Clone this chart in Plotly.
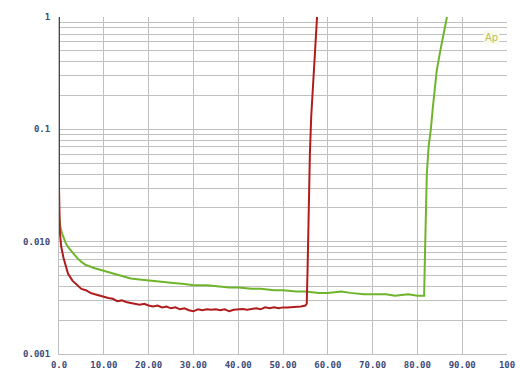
import plotly.graph_objects as go

red_x = [0, 0, 0.2, 0.5, 1, 1.5, 2, 3, 4, 5, 6, 7, 8, 9, 10, 11, 12, 13, 14, 15, 16, 17, 18, 19, 20,
         21, 22, 23, 24, 25, 26, 27, 28, 29, 30, 31, 32, 33, 34, 35, 36, 37, 38, 39, 40, 41, 42, 43, 44,
         45, 46, 47, 48, 49, 50, 51, 52, 53, 54, 55, 55.3, 55.5, 55.7, 56, 56.3, 56.8, 57.3, 57.6]
red_y = [1, 0.03, 0.012, 0.009, 0.0072, 0.006, 0.0052, 0.0045, 0.0041, 0.0038, 0.0037, 0.0035, 0.0034,
         0.0033, 0.0032, 0.00315, 0.0031, 0.00295, 0.003, 0.0029, 0.00285, 0.0028, 0.00275, 0.0028, 0.0027,
         0.00265, 0.0027, 0.0026, 0.00265, 0.00255, 0.0026, 0.0025, 0.00255, 0.00245, 0.0024, 0.0025,
         0.00245, 0.0025, 0.00248, 0.0025, 0.00245, 0.0025, 0.0024, 0.00248, 0.0025, 0.00252, 0.00248,
         0.0025, 0.00255, 0.0025, 0.0026, 0.00255, 0.0026, 0.00255, 0.0026, 0.0026, 0.00262, 0.0026,
         0.00265, 0.0027, 0.0028, 0.006, 0.02, 0.06, 0.13, 0.3, 0.6, 1]

green_x = [0, 0.3, 0.7, 1, 1.5, 2, 3, 4, 5, 6, 8, 10, 12, 14, 16, 18, 20, 22, 25, 28, 30, 33, 35, 38,
           40, 43, 45, 48, 50, 53, 55, 58, 60, 63, 65, 68, 70, 73, 75, 78, 80, 81.5, 81.7, 81.9, 82.1,
           82.5, 83, 83.4, 83.8, 84.3, 85.1, 86, 86.6]
green_y = [0.017, 0.0135, 0.0118, 0.0108, 0.0097, 0.009, 0.008, 0.0072, 0.0066, 0.0062, 0.0058,
           0.0055, 0.0052, 0.0049, 0.0047, 0.0046, 0.0045, 0.0044, 0.0043, 0.0042, 0.0041, 0.0041,
           0.0040, 0.0039, 0.0039, 0.0038, 0.0038, 0.0037, 0.0037, 0.0036, 0.0036, 0.0035, 0.0035,
           0.0036, 0.0035, 0.0034, 0.0034, 0.0034, 0.0033, 0.0034, 0.0033, 0.0033, 0.008, 0.02, 0.04,
           0.07, 0.1, 0.15, 0.22, 0.33, 0.5, 0.75, 1]

x_tickvals = [0, 10, 20, 30, 40, 50, 60, 70, 80, 90, 100]
x_ticktext = ["0.0", "10.00", "20.00", "30.00", "40.00", "50.00", "60.00", "70.00", "80.00", "90.00", "100"]
y_tickvals = [0.001, 0.01, 0.1, 1]
y_ticktext = ["0.001", "0.010", "0.1", "1"]
y_minor = [m * 10 ** e for e in (-3, -2, -1) for m in range(2, 10)]

fig = go.Figure()
fig.add_trace(go.Scatter(x=green_x, y=green_y, mode="lines",
                         line=dict(color="#6fb52c", width=2), showlegend=False))
fig.add_trace(go.Scatter(x=red_x, y=red_y, mode="lines",
                         line=dict(color="#b01c1c", width=2), showlegend=False))

font = dict(family="DejaVu Sans Mono", size=9, color="#3d4a78", weight="bold")
fig.update_layout(
    width=520, height=376,
    margin=dict(l=59, r=13, t=17, b=22),
    paper_bgcolor="white", plot_bgcolor="white",
    xaxis=dict(range=[0, 100], tickvals=x_tickvals, ticktext=x_ticktext, automargin=False,
               showgrid=True, gridcolor="#c0c0c0", gridwidth=1, zeroline=False,
               showline=True, linecolor="#c0c0c0", tickfont=font, ticks="", ticklabelstandoff=2),
    yaxis=dict(type="log", range=[-3, 0], tickvals=y_tickvals, ticktext=y_ticktext, automargin=False,
               showgrid=True, gridcolor="#c0c0c0", gridwidth=1, zeroline=False,
               showline=True, linecolor="#c0c0c0", tickfont=font, ticks="", ticklabelstandoff=6,
               minor=dict(tickvals=y_minor, showgrid=True, gridcolor="#c0c0c0", gridwidth=1)),
    annotations=[dict(x=0.985, y=0.96, xref="paper", yref="paper", text="Ap", showarrow=False,
                      font=dict(family="DejaVu Sans", size=10, color="#b8c060"),
                      bgcolor="rgba(250,250,235,0.9)", xanchor="right")],
)
fig.write_html("out.html", config={"displayModeBar": False},
               post_script="document.body.style.margin='0';")
